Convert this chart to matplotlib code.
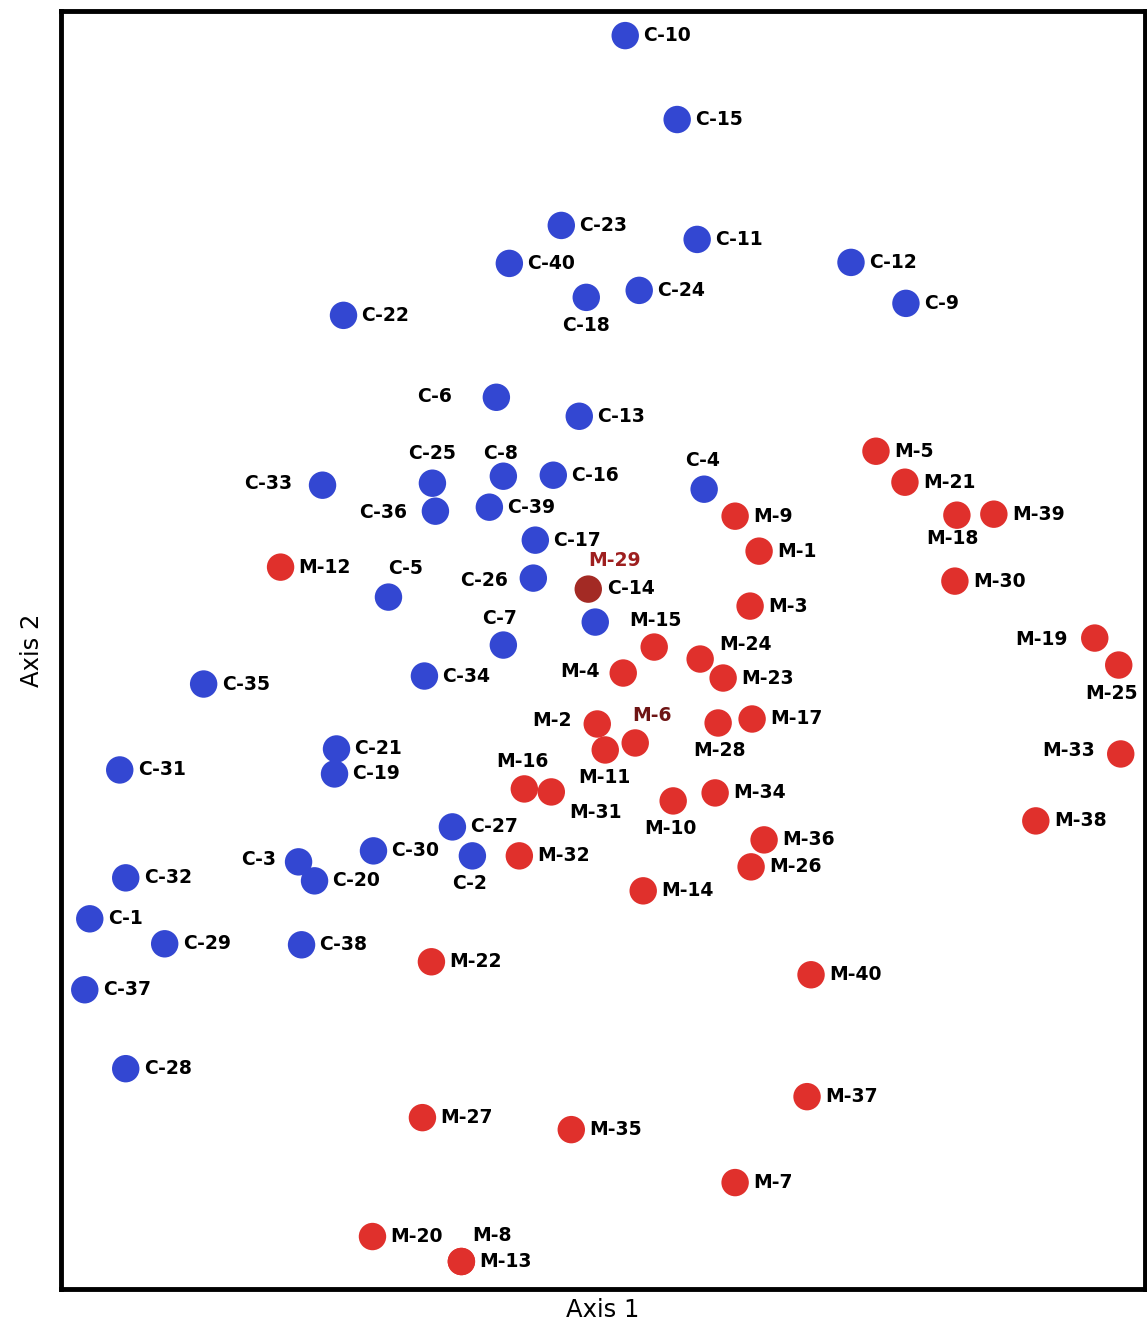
import matplotlib
matplotlib.use("Agg")
import matplotlib.pyplot as plt

# ordination scores (arbitrary units, axis 2 runs downward here)
c_names = ["C-10", "C-15", "C-23", "C-11", "C-40", "C-12", "C-24", "C-18", "C-9", "C-22",
           "C-6", "C-13", "C-25", "C-8", "C-16", "C-33", "C-4", "C-36", "C-39", "C-17",
           "C-5", "C-26", "C-14", "C-7", "C-34", "C-35", "C-21", "C-19", "C-31", "C-27",
           "C-30", "C-3", "C-20", "C-2", "C-32", "C-1", "C-29", "C-38", "C-37", "C-28"]
c_x = [625, 677, 561, 697, 509, 851, 639, 586, 906, 343,
       496, 579, 432, 503, 553, 322, 704, 435, 489, 535,
       388, 533, 595, 503, 424, 203, 336, 334, 119, 452,
       373, 298, 314, 472, 125, 89, 164, 301, 84, 125]
c_y = [35, 119, 225, 239, 263, 262, 290, 297, 303, 315,
       397, 416, 483, 476, 475, 485, 489, 511, 507, 540,
       597, 578, 622, 645, 676, 684, 749, 774, 770, 827,
       851, 862, 881, 856, 878, 919, 944, 945, 990, 1069]

m_names = ["M-5", "M-21", "M-18", "M-39", "M-9", "M-1", "M-12", "M-30", "M-29", "M-3",
           "M-15", "M-19", "M-24", "M-23", "M-25", "M-4", "M-2", "M-6", "M-11", "M-17",
           "M-28", "M-33", "M-16", "M-31", "M-10", "M-34", "M-38", "M-36", "M-32", "M-26",
           "M-14", "M-22", "M-40", "M-37", "M-27", "M-35", "M-7", "M-20", "M-8", "M-13"]
m_x = [876, 905, 957, 994, 735, 759, 280, 955, 588, 750,
       654, 1095, 700, 723, 1119, 623, 597, 635, 605, 752,
       718, 1121, 524, 551, 673, 715, 1036, 764, 519, 751,
       643, 431, 811, 807, 422, 571, 735, 372, 461, 461]
m_y = [451, 482, 515, 514, 516, 551, 567, 581, 589, 606,
       647, 638, 659, 678, 665, 673, 724, 743, 750, 719,
       723, 754, 789, 792, 801, 793, 821, 840, 856, 867,
       891, 962, 975, 1097, 1118, 1130, 1183, 1237, 1262, 1262]

# label placement relative to the point (default: to the right)
label_offset = {
    "C-18": (0, 28, "center"), "C-6": (-44, -1, "right"), "C-25": (0, -30, "center"),
    "C-8": (-3, -23, "center"), "C-33": (-30, -2, "right"), "C-4": (-2, -29, "center"),
    "C-36": (-28, 1, "right"), "C-5": (17, -29, "center"), "C-26": (-25, 2, "right"),
    "C-14": (12, -34, "left"), "C-7": (-4, -27, "center"), "C-3": (-22, -2, "right"),
    "C-2": (-3, 28, "center"),
    "M-18": (-4, 23, "center"), "M-29": (26, -29, "center"), "M-15": (1, -27, "center"),
    "M-19": (-27, 1, "right"), "M-24": (45, -15, "center"), "M-25": (-7, 28, "center"),
    "M-4": (-24, -2, "right"), "M-2": (-26, -3, "right"), "M-6": (17, -27, "center"),
    "M-11": (-1, 28, "center"), "M-28": (1, 28, "center"), "M-33": (-26, -3, "right"),
    "M-16": (-2, -27, "center"), "M-31": (44, 21, "center"), "M-10": (-3, 28, "center"),
    "M-8": (31, -26, "center"),
}
label_color = {"M-29": "#9e1f1f", "M-6": "#6e1414"}
point_color = {"M-29": "#a32a24"}

plt.rcParams['font.family'] = ['DejaVu Sans']
fig = plt.figure(figsize=(11.47, 13.28), dpi=100)
ax = fig.add_axes([0.053, 0.029, 0.945, 0.963])

def draw(names, xs, ys, col):
  for n, x, y in zip(names, xs, ys):
    ax.scatter(x, y, s=390, color=point_color.get(n, col), edgecolors='none', zorder=3)
    dx, dy, ha = label_offset.get(n, (18, 0, "left"))
    ax.text(x + dx, y + dy, n, ha=ha, va='center', fontsize=13.5, fontweight='bold',
            color=label_color.get(n, 'black'), zorder=4)

draw(c_names, c_x, c_y, "#3347d2")
draw(m_names, m_x, m_y, "#e0302c")

ax.set_xlim(60, 1145)
ax.set_ylim(1290, 10)
ax.set_xticks([])
ax.set_yticks([])
for sp in ax.spines.values():
  sp.set_linewidth(3.5)
ax.set_xlabel("Axis 1", fontsize=17.5, labelpad=6)
ax.set_ylabel("Axis 2", fontsize=17.5, labelpad=12)
fig.savefig("out.png", dpi=100)
